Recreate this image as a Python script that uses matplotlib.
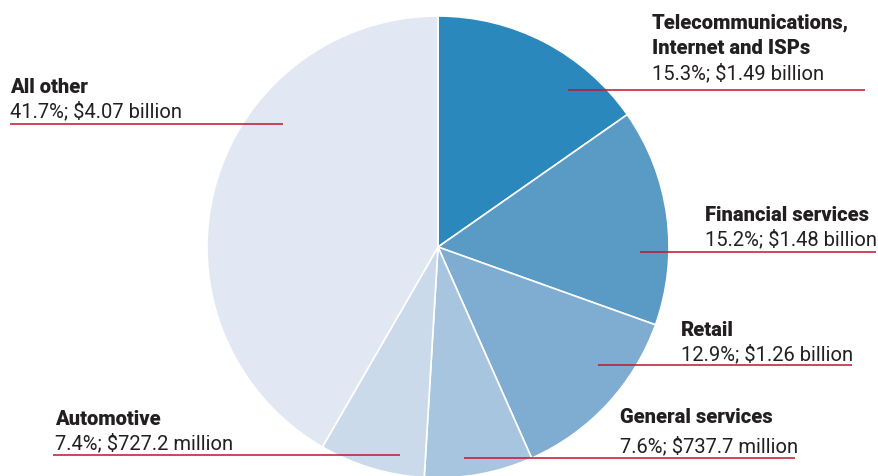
import matplotlib
matplotlib.use("Agg")
import matplotlib.pyplot as plt

categories = ["Telecommunications,\nInternet and ISPs", "Financial services", "Retail",
              "General services", "Automotive", "All other"]
shares = [15.3, 15.2, 12.9, 7.6, 7.4, 41.7]
amounts = ["$1.49 billion", "$1.48 billion", "$1.26 billion",
           "$737.7 million", "$727.2 million", "$4.07 billion"]

colors = ["#2b88bc", "#5a9bc6", "#7eadd1", "#a8c5e0", "#cbdaeb", "#e2e8f3"]

W, H = 879, 476
fig = plt.figure(figsize=(W / 100, H / 100), dpi=100)
ax = fig.add_axes([0, 0, 1, 1])

cx, cy, r = 438, H - 247, 231
ax.pie(shares, colors=colors, startangle=90, counterclock=False,
       center=(cx, cy), radius=r, frame=True,
       wedgeprops=dict(edgecolor="white", linewidth=1.2))
ax.set_xlim(0, W)
ax.set_ylim(0, H)
ax.set_aspect("equal")
ax.axis("off")

# label layout (pixel coords from top): text x, first title baseline, value baseline, line y, line x0, line x1
layout = [
    (652, 29, 79, 90, 568, 865),
    (705, 221, 245, 252, 640, 876),
    (681, 336, 360, 365, 598, 852),
    (620, 423, 452, 458, 464, 795),
    (55, 425, 449, 455, 53, 400),
    (10, 93, 117, 124, 10, 283),
]

fam = ["Roboto", "DejaVu Sans"]
red = "#c0152f"
tc = "#231f20"
for cat, s, a, (tx, tb, vb, ly, x0, x1) in zip(categories, shares, amounts, layout):
    for i, line in enumerate(cat.split("\n")):
        ax.text(tx, H - (tb + 25 * i), line, ha="left", va="baseline", fontsize=14.5,
                fontweight="black", family=fam, color=tc)
    ax.text(tx, H - vb, f"{s}%; {a}", ha="left", va="baseline", fontsize=14.5,
            family=fam, color=tc)
    ax.plot([x0, x1], [H - ly, H - ly], color=red, lw=1.1, solid_capstyle="butt")

fig.savefig("out.png", dpi=100)
